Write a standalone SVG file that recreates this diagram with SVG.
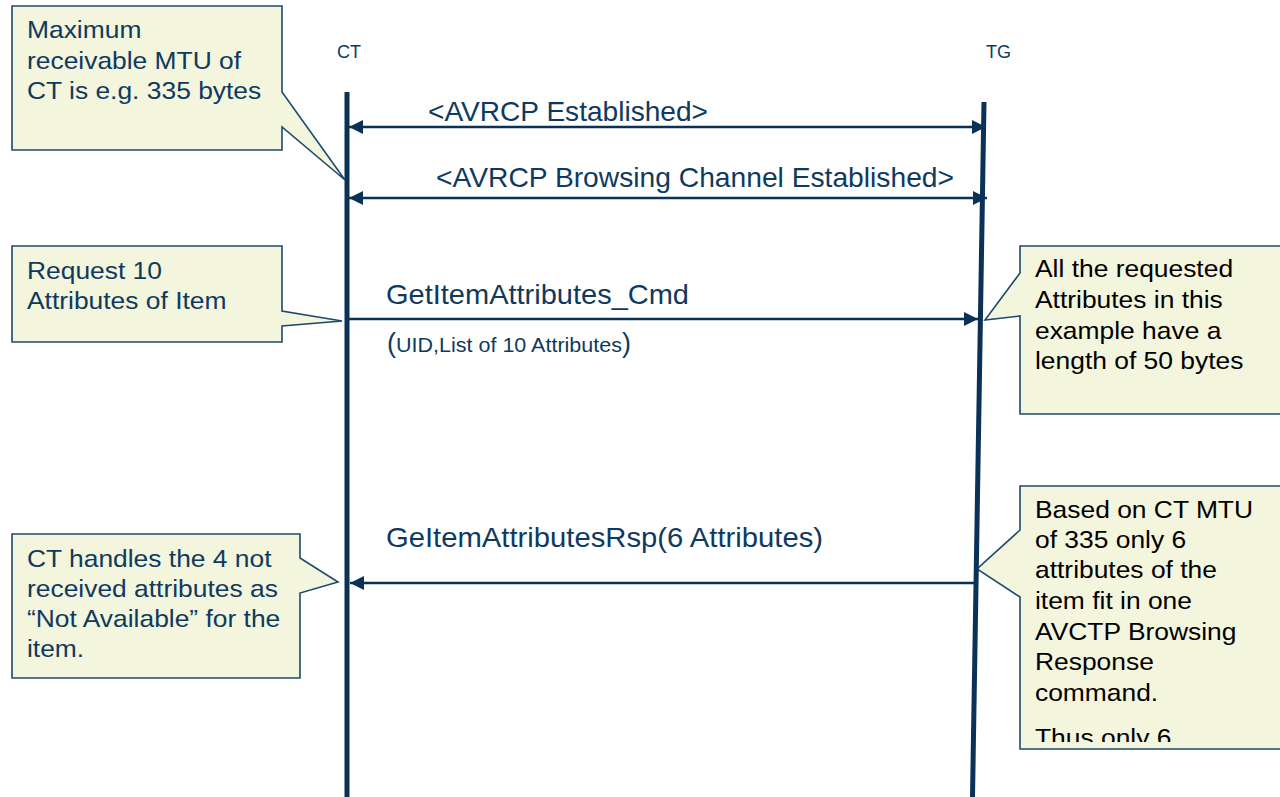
<svg xmlns="http://www.w3.org/2000/svg" width="1280" height="797" viewBox="0 0 1280 797">
<style>
.callout{fill:#f3f5dd;stroke:#1c4a70;stroke-width:1.6;stroke-linejoin:miter}
.ctext{font-family:"Liberation Sans",Arial,sans-serif;font-size:24px;fill:#0f3a60}
.ctextb{font-family:"Liberation Sans",Arial,sans-serif;font-size:24px;fill:#000}
.life{stroke:#0a3257;stroke-width:5;fill:none}
.msg{stroke:#0a3257;stroke-width:2.6;fill:none}
.lbl{font-family:"Liberation Sans",Arial,sans-serif;font-size:28px;fill:#0f3a60}
.ent{font-family:"Liberation Sans",Arial,sans-serif;font-size:18px;fill:#0f3a60}
</style>
<defs>
<marker id="ah" viewBox="0 0 14 14" refX="14" refY="7" markerWidth="14" markerHeight="14" markerUnits="userSpaceOnUse" orient="auto-start-reverse">
<path d="M0,0 L14,7 L0,14 z" fill="#0a3257"/>
</marker>
<clipPath id="clipE"><rect x="1020" y="486" width="270" height="256"/></clipPath>
</defs>
<rect x="0" y="0" width="1280" height="797" fill="#ffffff"/>

<g id="note-mtu">
<path class="callout" d="M12,6 H282 V92 L345,180 L282,127 V150 H12 Z"/>
<g transform="translate(27,0) scale(1.1,1)">
<text class="ctext" x="0" y="38">Maximum</text>
<text class="ctext" x="0" y="69">receivable MTU of</text>
<text class="ctext" x="0" y="99.5">CT is e.g. 335 bytes</text>
</g>
</g>

<g id="note-request">
<path class="callout" d="M12,246 H282 V311 L342,321 L282,326 V342 H12 Z"/>
<g transform="translate(27,0) scale(1.1,1)">
<text class="ctext" x="0" y="279">Request 10</text>
<text class="ctext" x="0" y="309">Attributes of Item</text>
</g>
</g>

<g id="note-handles">
<path class="callout" d="M12,534 H300 V558 L338,582 L300,593 V678 H12 Z"/>
<g transform="translate(27,0) scale(1.1,1)">
<text class="ctext" x="0" y="567">CT handles the 4 not</text>
<text class="ctext" x="0" y="597">received attributes as</text>
<text class="ctext" x="0" y="627">“Not Available” for the</text>
<text class="ctext" x="0" y="657">item.</text>
</g>
</g>

<g id="note-length">
<path class="callout" d="M1020,246 H1292 V414 H1020 V316 L985,320 L1020,273 Z"/>
<g transform="translate(1035,0) scale(1.1,1)">
<text class="ctextb" x="0" y="277">All the requested</text>
<text class="ctextb" x="0" y="308">Attributes in this</text>
<text class="ctextb" x="0" y="339">example have a</text>
<text class="ctextb" x="0" y="369">length of 50 bytes</text>
</g>
</g>

<g id="note-based">
<path class="callout" d="M1020,486 H1292 V749 H1020 V597 L977,569 L1020,530 Z"/>
<g clip-path="url(#clipE)">
<g transform="translate(1035,0) scale(1.1,1)">
<text class="ctextb" x="0" y="518">Based on CT MTU</text>
<text class="ctextb" x="0" y="548">of 335 only 6</text>
<text class="ctextb" x="0" y="578">attributes of the</text>
<text class="ctextb" x="0" y="609">item fit in one</text>
<text class="ctextb" x="0" y="640">AVCTP Browsing</text>
<text class="ctextb" x="0" y="670">Response</text>
<text class="ctextb" x="0" y="701">command.</text>
<text class="ctextb" x="0" y="746">Thus only 6</text>
</g>
</g>
</g>

<g id="lifeline-ct">
<text class="ent" x="337" y="58">CT</text>
<line class="life" x1="347" y1="92" x2="347" y2="797"/>
</g>

<g id="lifeline-tg">
<text class="ent" x="986" y="58">TG</text>
<line class="life" x1="984" y1="102" x2="972.5" y2="797"/>
</g>

<g id="connectors">
<line class="msg" x1="349" y1="127" x2="986" y2="127" marker-start="url(#ah)" marker-end="url(#ah)"/>
<text class="lbl" x="428" y="121" textLength="280" lengthAdjust="spacingAndGlyphs">&lt;AVRCP Established&gt;</text>
<line class="msg" x1="349" y1="198" x2="987" y2="198" marker-start="url(#ah)" marker-end="url(#ah)"/>
<text class="lbl" x="436" y="187" textLength="518" lengthAdjust="spacingAndGlyphs">&lt;AVRCP Browsing Channel Established&gt;</text>
<line class="msg" x1="349" y1="319" x2="978" y2="319" marker-end="url(#ah)"/>
<text class="lbl" x="386" y="304" textLength="303" lengthAdjust="spacingAndGlyphs">GetItemAttributes_Cmd</text>
<text class="lbl" x="387" y="352"><tspan font-size="27">(</tspan><tspan font-size="21" textLength="226" lengthAdjust="spacingAndGlyphs">UID,List of 10 Attributes</tspan><tspan font-size="27">)</tspan></text>
<line class="msg" x1="975" y1="583" x2="350" y2="583" marker-end="url(#ah)"/>
<text class="lbl" x="386" y="547" textLength="437" lengthAdjust="spacingAndGlyphs">GeItemAttributesRsp(6 Attributes)</text>
</g>
</svg>
